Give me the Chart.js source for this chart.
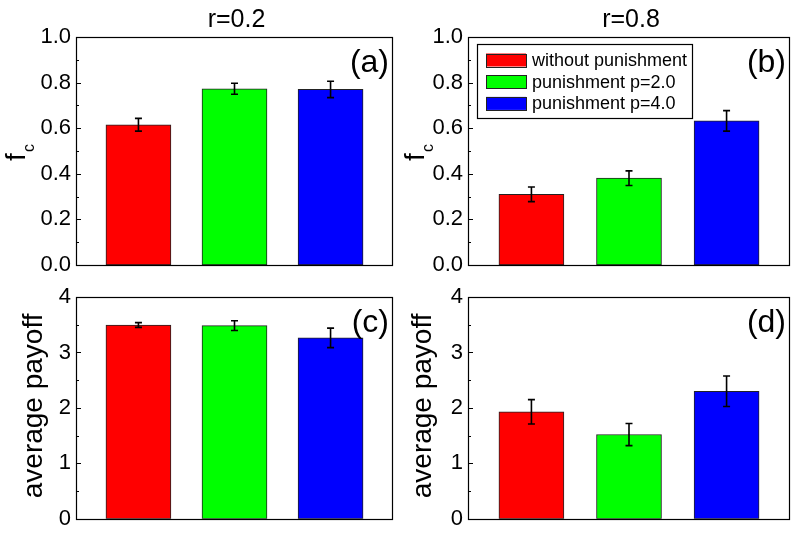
<!DOCTYPE html>
<html>
<head>
<meta charset="utf-8">
<script src="https://cdn.jsdelivr.net/npm/chart.js@4.4.1/dist/chart.umd.min.js"></script>
<style>
  html, body { margin: 0; padding: 0; background: #ffffff; }
  #wrap { position: relative; width: 796px; height: 537px; background: #ffffff; }
  canvas { position: absolute; left: 0; top: 0; }
</style>
</head>
<body>
<div id="wrap">
  <canvas id="ca" width="796" height="537"></canvas>
  <canvas id="cb" width="796" height="537"></canvas>
  <canvas id="cc" width="796" height="537"></canvas>
  <canvas id="cd" width="796" height="537"></canvas>
</div>
<script>
// ---- data ----
const categories = ['without punishment', 'punishment p=2.0', 'punishment p=4.0'];
const barColors = ['#FF0000', '#00FF00', '#0000FF'];

const fcR02 = [0.615, 0.773, 0.770];
const fcR02Err = [0.028, 0.024, 0.036];
const fcR08 = [0.310, 0.381, 0.632];
const fcR08Err = [0.032, 0.032, 0.045];
const payoffR02 = [3.495, 3.483, 3.263];
const payoffR02Err = [0.042, 0.088, 0.176];
const payoffR08 = [1.93, 1.52, 2.30];
const payoffR08Err = [0.22, 0.20, 0.275];

const fcTicks = [0.0, 0.2, 0.4, 0.6, 0.8, 1.0];
const fcMinorTicks = [0.1, 0.3, 0.5, 0.7, 0.9];
const payoffTicks = [0, 1, 2, 3, 4];
const payoffMinorTicks = [0.5, 1.5, 2.5, 3.5];

const FONT = '"Liberation Sans", Arial, Helvetica, sans-serif';

// ---- decoration plugin ----
const deco = {
  id: 'deco',
  afterDatasetsDraw(chart, args, o) {
    const ctx = chart.ctx;
    const a = chart.chartArea;
    const ys = chart.scales.y;
    const xs = chart.scales.x;
    ctx.save();
    // error bars
    ctx.strokeStyle = '#000';
    ctx.lineWidth = 1.6;
    o.values.forEach((v, i) => {
      const x = xs.getPixelForValue(i + 1);
      const y1 = ys.getPixelForValue(v + o.errs[i]);
      const y2 = ys.getPixelForValue(v - o.errs[i]);
      ctx.beginPath();
      ctx.moveTo(x, y1); ctx.lineTo(x, y2);
      ctx.moveTo(x - 3.5, y1); ctx.lineTo(x + 3.5, y1);
      ctx.moveTo(x - 3.5, y2); ctx.lineTo(x + 3.5, y2);
      ctx.stroke();
    });
    // frame
    ctx.lineWidth = 1.2;
    ctx.strokeStyle = '#000';
    ctx.strokeRect(Math.round(a.left) + 0.5, Math.round(a.top) + 0.5,
                   Math.round(a.right - a.left) - 1, Math.round(a.bottom - a.top));
    // inner ticks
    ctx.lineWidth = 1;
    o.major.forEach(t => {
      const y = Math.round(ys.getPixelForValue(t)) + 0.5;
      ctx.beginPath(); ctx.moveTo(a.left, y); ctx.lineTo(a.left + 5, y); ctx.stroke();
    });
    o.minor.forEach(t => {
      const y = Math.round(ys.getPixelForValue(t)) + 0.5;
      ctx.beginPath(); ctx.moveTo(a.left, y); ctx.lineTo(a.left + 3, y); ctx.stroke();
    });
    ctx.restore();
  },
  afterDraw(chart, args, o) {
    const ctx = chart.ctx;
    const a = chart.chartArea;
    ctx.save();
    ctx.fillStyle = '#000';
    // column title
    if (o.title) {
      ctx.font = '25px ' + FONT;
      ctx.textAlign = 'center';
      ctx.textBaseline = 'alphabetic';
      ctx.fillText(o.title, (a.left + a.right) / 2 + 2, a.top - 10);
    }
    // panel label
    ctx.font = '32px ' + FONT;
    ctx.textAlign = 'right';
    ctx.textBaseline = 'alphabetic';
    ctx.fillText(o.label, a.right - 4, a.top + 35);
    // y axis title
    const cy = (a.top + a.bottom) / 2;
    ctx.save();
    if (o.ySub) {
      ctx.translate(a.left - o.yOff, cy + 2);
      ctx.rotate(-Math.PI / 2);
      ctx.font = '28px ' + FONT;
      ctx.textAlign = 'left';
      ctx.textBaseline = 'alphabetic';
      const wf = ctx.measureText(o.yMain).width;
      ctx.font = '16px ' + FONT;
      const wc = ctx.measureText(o.ySub).width;
      const start = -(wf + wc) / 2;
      ctx.font = '28px ' + FONT;
      ctx.fillText(o.yMain, start, 0);
      ctx.font = '16px ' + FONT;
      ctx.fillText(o.ySub, start + wf + 1, 9);
    } else {
      ctx.translate(a.left - o.yOff, cy - 2);
      ctx.rotate(-Math.PI / 2);
      ctx.font = '28px ' + FONT;
      ctx.textAlign = 'center';
      ctx.textBaseline = 'alphabetic';
      ctx.fillText(o.yMain, 0, 0);
    }
    ctx.restore();
    // legend
    if (o.legend) {
      const bx = Math.round(a.left + 9) + 0.5, by = Math.round(a.top + 7) + 0.5;
      ctx.lineWidth = 1.2;
      ctx.strokeStyle = '#000';
      ctx.strokeRect(bx, by, 215, 74);
      ctx.font = '18px ' + FONT;
      ctx.textAlign = 'left';
      ctx.textBaseline = 'middle';
      categories.forEach((c, i) => {
        const rowY = a.top + 23 + i * 21.7;
        ctx.fillStyle = barColors[i];
        ctx.fillRect(a.left + 18, rowY - 6.5, 40, 13);
        ctx.strokeStyle = '#222';
        ctx.lineWidth = 1;
        ctx.strokeRect(a.left + 18 + 0.5, Math.round(rowY - 6.5) + 0.5, 40, 13);
        ctx.fillStyle = '#000';
        ctx.fillText(c, a.left + 64, rowY + 1);
      });
    }
    ctx.restore();
  }
};

function makePanel(id, box, values, errs, tickVals, minorVals, yMax, fmt, deco_opts) {
  const axisW = 76;
  new Chart(document.getElementById(id), {
    type: 'bar',
    data: {
      datasets: [{
        data: values.map((v, i) => ({ x: i + 1, y: v })),
        backgroundColor: barColors,
        borderColor: '#222',
        borderWidth: 1,
        borderSkipped: false,
        barThickness: 65
      }]
    },
    options: {
      responsive: false,
      animation: false,
      devicePixelRatio: 1,
      layout: {
        padding: { left: box.L - axisW, right: 796 - box.R, top: box.T, bottom: 537 - box.B }
      },
      plugins: {
        legend: { display: false },
        tooltip: { enabled: false },
        title: { display: false },
        deco: Object.assign({ values, errs, major: tickVals, minor: minorVals }, deco_opts)
      },
      scales: {
        x: { type: 'linear', min: 0.35, max: 3.65, offset: false, display: false },
        y: {
          min: 0, max: yMax,
          afterFit(s) { s.width = axisW; },
          afterBuildTicks(s) { s.ticks = tickVals.map(v => ({ value: v })); },
          grid: { display: false, drawTicks: false },
          border: { display: false },
          ticks: {
            padding: 5,
            color: '#000',
            font: { family: FONT, size: 22 },
            callback: fmt
          }
        }
      }
    },
    plugins: [deco]
  });
}

const fmt1 = v => Number(v).toFixed(1);
const fmt0 = v => String(Math.round(v));

makePanel('ca', { L: 76, R: 393, T: 37, B: 265 }, fcR02, fcR02Err, fcTicks, fcMinorTicks, 1.0, fmt1,
  { title: 'r=0.2', label: '(a)', yMain: 'f', ySub: 'c', yOff: 51, legend: false });
makePanel('cb', { L: 468, R: 790, T: 37, B: 265 }, fcR08, fcR08Err, fcTicks, fcMinorTicks, 1.0, fmt1,
  { title: 'r=0.8', label: '(b)', yMain: 'f', ySub: 'c', yOff: 44, legend: true });
makePanel('cc', { L: 76, R: 393, T: 297, B: 525 }, payoffR02, payoffR02Err, payoffTicks, payoffMinorTicks, 4, fmt0,
  { title: '', label: '(c)', yMain: 'average payoff', ySub: '', yOff: 34, legend: false });
makePanel('cd', { L: 468, R: 790, T: 297, B: 525 }, payoffR08, payoffR08Err, payoffTicks, payoffMinorTicks, 4, fmt0,
  { title: '', label: '(d)', yMain: 'average payoff', ySub: '', yOff: 37, legend: false });
</script>
</body>
</html>
